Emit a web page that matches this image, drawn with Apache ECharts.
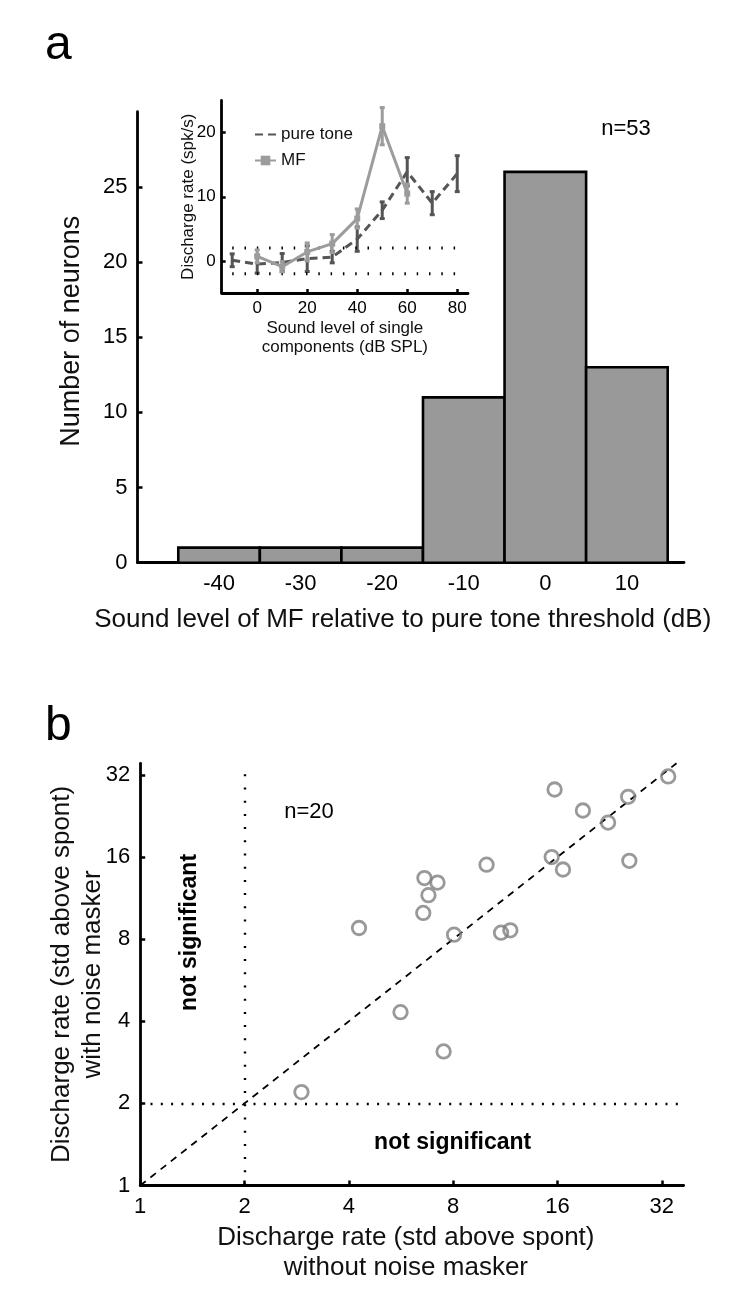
<!DOCTYPE html>
<html><head><meta charset="utf-8">
<script src="https://cdn.jsdelivr.net/npm/echarts@6/dist/echarts.min.js"></script>
<style>html,body{margin:0;padding:0;background:#fff}#c{width:750px;height:1316px}</style>
</head><body><div id="c"></div>
<script>
// ---------- Panel a: histogram ----------
const binCenters = [-40, -30, -20, -10, 0, 10];
const binCounts  = [1, 1, 1, 11, 26, 13];
const BIN_WIDTH  = 10;
const histXTicks = [-40, -30, -20, -10, 0, 10];
const histYTicks = [0, 5, 10, 15, 20, 25];

// ---------- Panel a inset: rate-level functions ----------
const ptLevels = [-10, 0, 10, 20, 30, 40, 50, 60, 70, 80];
const ptRate   = [0.1, -0.5, -0.25, 0.35, 0.6, 3.4, 7.9, 13.9, 9.0, 13.6];
const ptErr    = [1.0, 1.4, 1.4, 2.0, 0.9, 1.9, 1.3, 2.2, 1.8, 2.8];
const mfLevels = [0, 10, 20, 30, 40, 50, 60];
const mfRate   = [0.7, -0.9, 1.4, 2.7, 6.6, 21.0, 10.5];
const mfErr    = [1.0, 0.8, 1.4, 1.4, 1.5, 2.9, 1.5];
const insetXTicks = [0, 20, 40, 60, 80];
const insetYTicks = [0, 10, 20];
const spontBand = [2, -2];

// ---------- Panel b: scatter ----------
const rateWithout = [2.92, 4.28, 5.64, 7.51, 6.56, 8.05, 6.61, 7.21, 6.79, 9.99, 11.0, 11.7, 15.4, 16.6, 15.7, 18.95, 22.4, 25.6, 25.8, 33.4];
const rateWith    = [2.2, 8.79, 4.32, 3.10, 9.98, 8.31, 13.4, 12.9, 11.6, 15.0, 8.45, 8.62, 16.0, 14.4, 28.3, 23.7, 21.4, 26.6, 15.5, 31.6];
const logTicks = [1, 2, 4, 8, 16, 32];
const SIG_LEVEL = 2;
const B_XMAX = 37, B_YMAX = 35.3;

const FONT = '"Liberation Sans", Arial, Helvetica, sans-serif';
const AX = { onZero: false, lineStyle: { color: '#000', width: 2.8 } };

function errData(xs, ys, es) { return xs.map((x, i) => [x, ys[i] - es[i], ys[i] + es[i]]); }
function errSeries(name, xs, ys, es, color) {
  return {
    type: 'custom', name: name, xAxisIndex: 1, yAxisIndex: 1,
    encode: { x: 0, y: [1, 2] },
    data: errData(xs, ys, es),
    renderItem: function (params, api) {
      const x = api.value(0);
      const top = api.coord([x, api.value(2)]);
      const bot = api.coord([x, api.value(1)]);
      const cw = 2.5;
      const st = { stroke: color, lineWidth: 3 };
      return { type: 'group', children: [
        { type: 'line', shape: { x1: top[0], y1: top[1], x2: bot[0], y2: bot[1] }, style: st },
        { type: 'line', shape: { x1: top[0] - cw, y1: top[1], x2: top[0] + cw, y2: top[1] }, style: st },
        { type: 'line', shape: { x1: bot[0] - cw, y1: bot[1], x2: bot[0] + cw, y2: bot[1] }, style: st }
      ]};
    }
  };
}

const chart = echarts.init(document.getElementById('c'), null, { renderer: 'canvas' });
chart.setOption({
  animation: false,
  textStyle: { fontFamily: FONT, color: '#000' },
  grid: [
    { left: 137.5, top: 111.7, width: 546.5, height: 451, outerBoundsMode: 'none', containLabel: false },
    { left: 221.7, top: 100.5, width: 246.3, height: 192.5, outerBoundsMode: 'none', containLabel: false },
    { left: 140.2, top: 763.3, width: 543.4, height: 422.2, outerBoundsMode: 'none', containLabel: false }
  ],
  legend: {
    data: [{ name: 'pure tone', itemStyle: { opacity: 0 } }, 'MF'],
    orient: 'vertical', left: 249, top: 121,
    itemWidth: 21, itemHeight: 12, itemGap: 9, selectedMode: false,
    textStyle: { fontSize: 17, color: '#111', fontFamily: FONT }
  },
  xAxis: [
    { gridIndex: 0, type: 'value', min: -50, max: 17, splitLine: { show: false },
      axisLine: AX, axisTick: { inside: true, length: 5, lineStyle: { width: 2.5, color: '#000' }, customValues: histXTicks },
      axisLabel: { customValues: histXTicks, fontSize: 22, color: '#000', margin: 10 },
      name: 'Sound level of MF relative to pure tone threshold (dB)', nameLocation: 'middle', nameGap: 44,
      nameMoveOverlap: false, nameTextStyle: { fontSize: 26, color: '#111', padding: [0, 16, 0, 0] } },
    { gridIndex: 1, type: 'value', min: -14.2, max: 84.3, splitLine: { show: false },
      axisLine: AX, axisTick: { inside: true, length: 4, lineStyle: { width: 2.5, color: '#000' }, customValues: insetXTicks },
      axisLabel: { customValues: insetXTicks, fontSize: 17, color: '#000', margin: 7 },
      name: 'Sound level of single\ncomponents (dB SPL)', nameLocation: 'middle', nameGap: 26,
      nameMoveOverlap: false, nameTextStyle: { fontSize: 17, lineHeight: 19, color: '#111' } },
    { gridIndex: 2, type: 'log', logBase: 2, min: 1, max: B_XMAX, splitLine: { show: false },
      axisLine: AX, axisTick: { inside: true, length: 5, lineStyle: { width: 2.5, color: '#000' }, customValues: logTicks },
      axisLabel: { customValues: logTicks, fontSize: 22, color: '#000', margin: 10 },
      name: 'Discharge rate (std above spont)\nwithout noise masker', nameLocation: 'middle', nameGap: 37,
      nameMoveOverlap: false, nameTextStyle: { fontSize: 26, lineHeight: 30, color: '#111', padding: [0, 12, 0, 0] } }
  ],
  yAxis: [
    { gridIndex: 0, type: 'value', min: 0, max: 30, splitLine: { show: false },
      axisLine: AX, axisTick: { inside: true, length: 5, lineStyle: { width: 2.5, color: '#000' }, customValues: histYTicks },
      axisLabel: { customValues: histYTicks, fontSize: 22, color: '#000', margin: 10 },
      name: 'Number of neurons', nameLocation: 'middle', nameGap: 52,
      nameMoveOverlap: false, nameTextStyle: { fontSize: 27, color: '#111', padding: [0, 0, 0, 12] } },
    { gridIndex: 1, type: 'value', min: -5, max: 25, splitLine: { show: false },
      axisLine: AX, axisTick: { inside: true, length: 4, lineStyle: { width: 2.5, color: '#000' }, customValues: insetYTicks },
      axisLabel: { customValues: insetYTicks, fontSize: 17, color: '#000', margin: 6 },
      name: 'Discharge rate (spk/s)', nameLocation: 'middle', nameGap: 25,
      nameMoveOverlap: false, nameTextStyle: { fontSize: 17, color: '#111' } },
    { gridIndex: 2, type: 'log', logBase: 2, min: 1, max: B_YMAX, splitLine: { show: false },
      axisLine: AX, axisTick: { inside: true, length: 5, lineStyle: { width: 2.5, color: '#000' }, customValues: logTicks },
      axisLabel: { customValues: logTicks, fontSize: 22, color: '#000', margin: 10 },
      name: 'Discharge rate (std above spont)\nwith noise masker', nameLocation: 'middle', nameGap: 32,
      nameMoveOverlap: false, nameTextStyle: { fontSize: 26, lineHeight: 31, color: '#111' } }
  ],
  series: [
    { type: 'custom', xAxisIndex: 0, yAxisIndex: 0, z: 1,
      data: binCenters.map((c, i) => [c, binCounts[i]]),
      encode: { x: 0, y: 1 },
      renderItem: function (params, api) {
        const c = api.value(0), v = api.value(1);
        const p0 = api.coord([c - BIN_WIDTH / 2, v]);
        const p1 = api.coord([c + BIN_WIDTH / 2, 0]);
        return { type: 'rect', shape: { x: p0[0], y: p0[1], width: p1[0] - p0[0], height: p1[1] - p0[1] },
          style: { fill: '#999999', stroke: '#000', lineWidth: 2.6 } };
      } },
    { type: 'line', xAxisIndex: 1, yAxisIndex: 1, data: [[ptLevels[0], spontBand[0]], [ptLevels[ptLevels.length - 1], spontBand[0]]],
      symbol: 'none', lineStyle: { color: '#000', width: 3, type: [1.5, 10.8] }, silent: true, z: 2 },
    { type: 'line', xAxisIndex: 1, yAxisIndex: 1, data: [[ptLevels[0], spontBand[1]], [ptLevels[ptLevels.length - 1], spontBand[1]]],
      symbol: 'none', lineStyle: { color: '#000', width: 3, type: [1.5, 10.8] }, silent: true, z: 2 },
    { type: 'line', name: 'pure tone', xAxisIndex: 1, yAxisIndex: 1, z: 3,
      data: ptLevels.map((x, i) => [x, ptRate[i]]), symbol: 'none',
      lineStyle: { color: '#555', width: 3, type: [8, 5] }, itemStyle: { color: '#555' } },
    errSeries('pure tone', ptLevels, ptRate, ptErr, '#555'),
    { type: 'line', name: 'MF', xAxisIndex: 1, yAxisIndex: 1, z: 4,
      data: mfLevels.map((x, i) => [x, mfRate[i]]), symbol: 'rect', symbolSize: 6,
      lineStyle: { color: '#9c9c9c', width: 3 }, itemStyle: { color: '#9c9c9c' } },
    Object.assign(errSeries('MF', mfLevels, mfRate, mfErr, '#9c9c9c'), { z: 4 }),
    { type: 'scatter', xAxisIndex: 2, yAxisIndex: 2, z: 5,
      data: rateWithout.map((x, i) => [x, rateWith[i]]),
      symbol: 'circle', symbolSize: 13.5,
      itemStyle: { color: 'rgba(0,0,0,0)', borderColor: '#7f7f7f', borderWidth: 2.8 },
      markLine: {
        silent: true, symbol: ['none', 'none'], label: { show: false },
        data: [
          { yAxis: SIG_LEVEL, lineStyle: { color: '#000', width: 2.4, type: [2, 8.3] } },
          { xAxis: SIG_LEVEL, lineStyle: { color: '#000', width: 2.4, type: [2, 11.2] } },
          [{ coord: [1, 1], lineStyle: { color: '#000', width: 1.8, type: [7, 6] } }, { coord: [B_YMAX, B_YMAX] }]
        ]
      } }
  ],
  graphic: [
    { type: 'text', x: 45, y: 46, style: { text: 'a', font: '48px ' + FONT, fill: '#000', verticalAlign: 'middle' } },
    { type: 'text', x: 45, y: 726.4, style: { text: 'b', font: '48px ' + FONT, fill: '#000', verticalAlign: 'middle' } },
    { type: 'text', x: 626, y: 129, style: { text: 'n=53', font: '22px ' + FONT, fill: '#000', align: 'center', verticalAlign: 'middle' } },
    { type: 'text', x: 309, y: 812, style: { text: 'n=20', font: '22px ' + FONT, fill: '#000', align: 'center', verticalAlign: 'middle' } },
    { type: 'text', x: 190, y: 932.5, rotation: Math.PI / 2, style: { text: 'not significant', font: 'bold 23px ' + FONT, fill: '#000', align: 'center', verticalAlign: 'middle' } },
    { type: 'text', x: 452.7, y: 1142.7, style: { text: 'not significant', font: 'bold 23px ' + FONT, fill: '#000', align: 'center', verticalAlign: 'middle' } }
  ]
});
</script></body></html>
